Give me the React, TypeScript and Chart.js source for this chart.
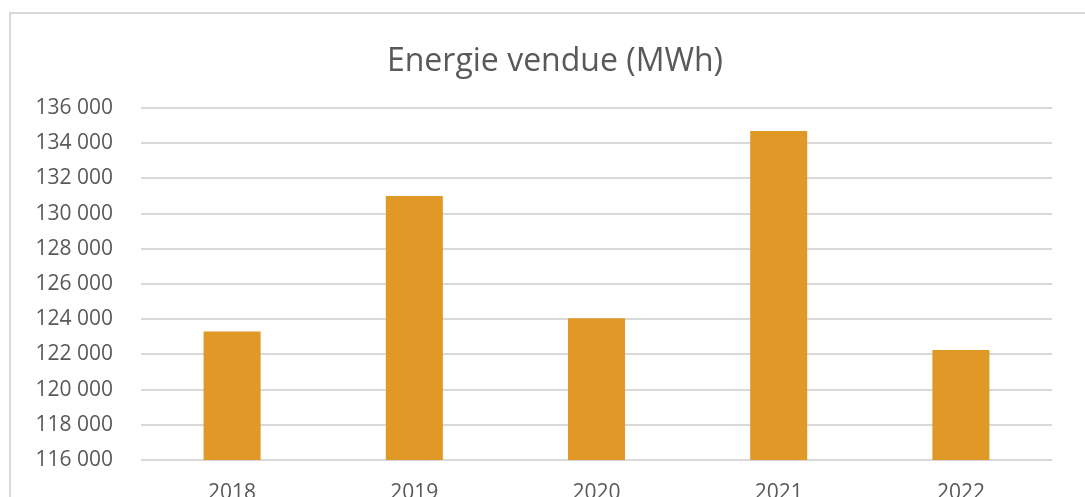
import React, { useEffect, useRef } from "react";
import { Chart, registerables } from "chart.js";

Chart.register(...registerables);

const categories = ["2018", "2019", "2020", "2021", "2022"];
const energySold = [123300, 131000, 124050, 134700, 122250];
const yMin = 116000;
const yMax = 136000;
const yStep = 2000;
const titleText = "Energie vendue (MWh)";

const textColor = "#595959";
const barColor = "#E09826";
const gridColor = "#D9D9D9";
const fontFamily = "'Open Sans', 'Noto Sans', sans-serif";

const fmt = (v: number) => String(v).replace(/\B(?=(\d{3})+(?!\d))/g, " ");

// Centre the title on the whole chart object rather than the canvas left edge
const titleShift = {
  id: "titleShift",
  afterLayout(chart: any) {
    const tb = chart.titleBlock;
    if (tb) {
      tb.left = 58;
      tb.width = tb.right - tb.left;
    }
  },
};

export default function App() {
  const ref = useRef<HTMLCanvasElement | null>(null);

  useEffect(() => {
    if (!ref.current) return;
    const chart = new Chart(ref.current, {
      type: "bar",
      data: {
        labels: categories,
        datasets: [
          {
            label: titleText,
            data: energySold,
            backgroundColor: barColor,
            borderWidth: 0,
            categoryPercentage: 1,
            barPercentage: 0.313,
          },
        ],
      },
      plugins: [titleShift],
      options: {
        responsive: false,
        animation: false,
        layout: { padding: { left: 0, right: 33, top: 0, bottom: 0 } },
        plugins: {
          legend: { display: false },
          tooltip: { enabled: false },
          title: {
            display: true,
            text: titleText,
            color: textColor,
            font: { family: fontFamily, size: 32, weight: "normal", lineHeight: 1.2 },
            padding: { top: 43, bottom: 108 - 43 - 32 * 1.2 },
          },
        },
        scales: {
          x: {
            grid: { display: false, drawTicks: false },
            border: { display: false },
            ticks: {
              color: textColor,
              font: { family: fontFamily, size: 21 },
              padding: 20,
              maxRotation: 0,
            },
            afterFit: (scale: any) => {
              scale.height = 60;
            },
          },
          y: {
            min: yMin,
            max: yMax,
            grid: { color: gridColor, lineWidth: 2, drawTicks: false },
            border: { display: false },
            ticks: {
              stepSize: yStep,
              color: textColor,
              font: { family: fontFamily, size: 21 },
              padding: 28,
              callback: (v: any) => fmt(Number(v)),
            },
            afterFit: (scale: any) => {
              scale.width = 141;
            },
          },
        },
      },
    });
    return () => chart.destroy();
  }, []);

  return (
    <div
      style={{
        position: "fixed",
        left: 0,
        top: 0,
        width: 1085,
        height: 497,
        overflow: "hidden",
        background: "#ffffff",
      }}
    >
      <div
        style={{
          position: "absolute",
          left: 9,
          top: 12,
          width: 1200,
          height: 600,
          borderLeft: `2px solid ${gridColor}`,
          borderTop: `2px solid ${gridColor}`,
        }}
      />
      <canvas
        ref={ref}
        width={1085}
        height={520}
        style={{ position: "absolute", left: 0, top: 0, width: 1085, height: 520 }}
      />
    </div>
  );
}
